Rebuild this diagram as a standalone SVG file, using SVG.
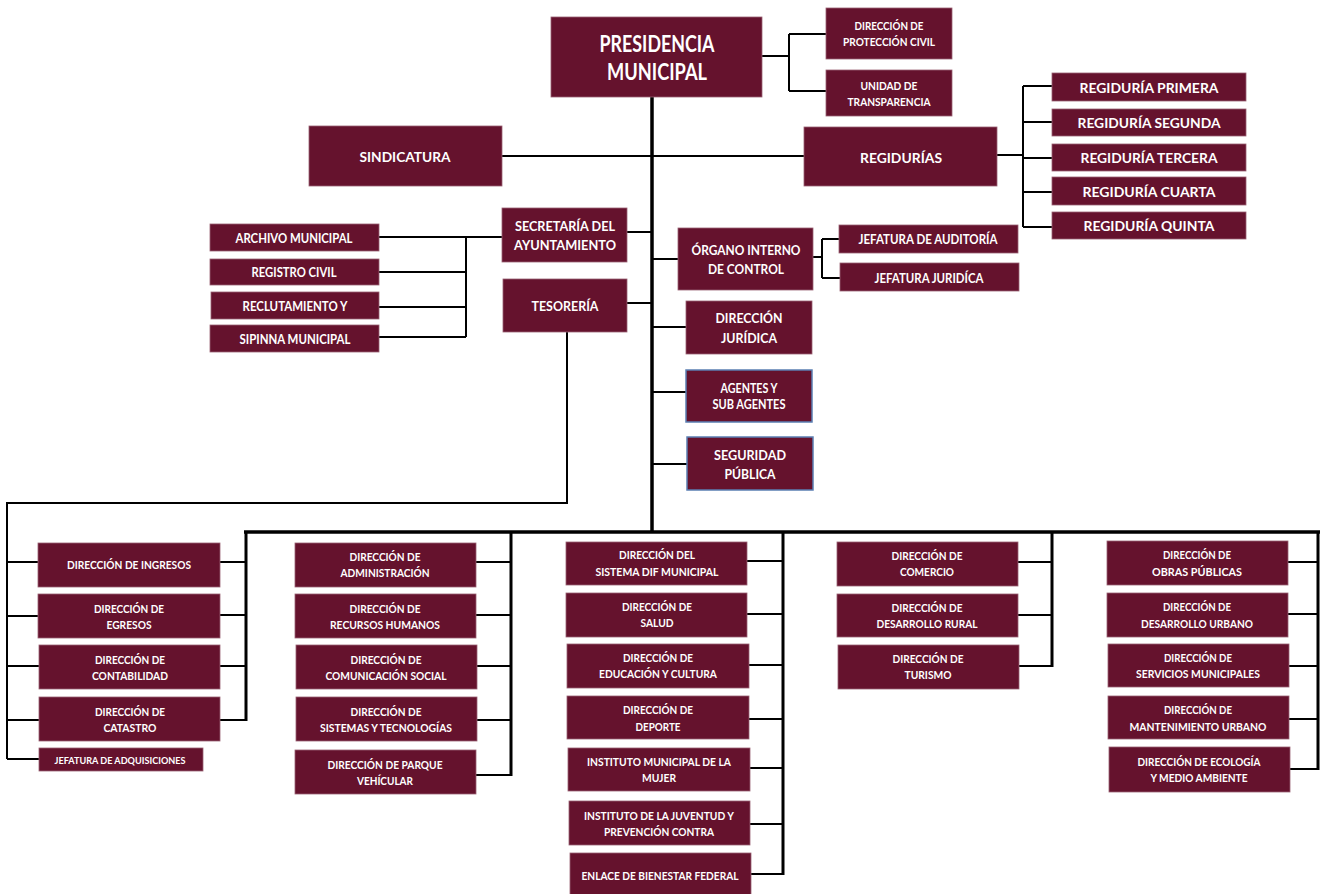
<svg xmlns="http://www.w3.org/2000/svg" width="1325" height="894" viewBox="0 0 1325 894">
<style>
.b{fill:#65122D;stroke:#9a6273;stroke-width:0.8}
.bb{fill:#65122D;stroke:#5b7fb3;stroke-width:1.5}
text{fill:#ffffff;font-family:Lato,"Open Sans","Liberation Sans",sans-serif;font-weight:700;text-anchor:middle}
.s{font-size:10.5px}
.m{font-size:12.5px}
.l{font-size:13.5px}
.c{fill:none;stroke:#000;stroke-width:2}
.k{fill:none;stroke:#000;stroke-width:3.5}
.kc{fill:none;stroke:#000;stroke-width:3}
</style>
<g id="connectors">
<path class="c" d="M762,56H789M789,34V91M789,34H826M789,91H826"/>
<path class="k" d="M652,97V533"/>
<path class="c" d="M502,156H804"/>
<path class="c" d="M997,155H1023M1023,86V227M1023,86H1052M1023,122H1052M1023,158H1052M1023,192H1052M1023,227H1052"/>
<path class="c" d="M627,232H652M627,303H652"/>
<path class="c" d="M379,237H502M466,237V337M379,272H466M379,307H466M379,337H466"/>
<path class="c" d="M652,259H678M813,257H822M822,239V278M822,239H839M822,278H840"/>
<path class="c" d="M652,327H686M652,392H686M652,464H687"/>
<path class="c" d="M567,332V503H7V759M7,562H38M7,616H38M7,666H39M7,720H39M7,759H39"/>
<path class="k" d="M244,532H1320"/>
<path class="kc" d="M246,532V721M511,532V776M783,532V875M1052,532V667M1318,532V770"/>
<path class="c" d="M220,562H246M220,615H246M220,666H246M220,720H246"/>
<path class="c" d="M476,562H511M476,615H511M477,666H511M477,720H511M476,775H511"/>
<path class="c" d="M747,561H783M747,614H783M749,665H783M749,719H783M750,768H783M750,824H783M751,874H783"/>
<path class="c" d="M1018,562H1052M1018,615H1052M1019,666H1052"/>
<path class="c" d="M1288,562H1318M1288,614H1318M1289,666H1318M1289,719H1318M1290,769H1318"/>
</g>
<g id="presidencia"><rect class="b" x="551" y="17" width="211" height="80"/><text x="657" y="52" style="font-size:22px" textLength="115" lengthAdjust="spacingAndGlyphs">PRESIDENCIA</text><text x="657" y="80" style="font-size:22px" textLength="100" lengthAdjust="spacingAndGlyphs">MUNICIPAL</text></g>
<g id="proteccion-civil"><rect class="b" x="826" y="8" width="126" height="51"/><text class="s" x="889" y="30" textLength="69" lengthAdjust="spacingAndGlyphs">DIRECCIÓN DE</text><text class="s" x="889" y="46" textLength="92" lengthAdjust="spacingAndGlyphs">PROTECCIÓN CIVIL</text></g>
<g id="transparencia"><rect class="b" x="826" y="70" width="126" height="46"/><text class="s" x="889" y="90" textLength="57" lengthAdjust="spacingAndGlyphs">UNIDAD DE</text><text class="s" x="889" y="106" textLength="83" lengthAdjust="spacingAndGlyphs">TRANSPARENCIA</text></g>
<g id="sindicatura"><rect class="b" x="309" y="126" width="193" height="60"/><text x="405" y="162" style="font-size:14px" textLength="91" lengthAdjust="spacingAndGlyphs">SINDICATURA</text></g>
<g id="regidurias"><rect class="b" x="804" y="127" width="193" height="59"/><text x="901" y="163" style="font-size:14px" textLength="82" lengthAdjust="spacingAndGlyphs">REGIDURÍAS</text></g>
<g id="reg1"><rect class="b" x="1052" y="73" width="194" height="28"/><text class="l" x="1149" y="93" textLength="139" lengthAdjust="spacingAndGlyphs">REGIDURÍA PRIMERA</text></g>
<g id="reg2"><rect class="b" x="1052" y="109" width="194" height="27"/><text class="l" x="1149" y="128" textLength="143" lengthAdjust="spacingAndGlyphs">REGIDURÍA SEGUNDA</text></g>
<g id="reg3"><rect class="b" x="1052" y="144" width="194" height="27"/><text class="l" x="1149" y="163" textLength="137" lengthAdjust="spacingAndGlyphs">REGIDURÍA TERCERA</text></g>
<g id="reg4"><rect class="b" x="1052" y="177" width="194" height="28"/><text class="l" x="1149" y="197" textLength="133" lengthAdjust="spacingAndGlyphs">REGIDURÍA CUARTA</text></g>
<g id="reg5"><rect class="b" x="1052" y="212" width="194" height="27"/><text class="l" x="1149" y="231" textLength="131" lengthAdjust="spacingAndGlyphs">REGIDURÍA QUINTA</text></g>
<g id="secretaria"><rect class="b" x="502" y="208" width="125" height="54"/><text class="m" x="565" y="231" textLength="100" lengthAdjust="spacingAndGlyphs">SECRETARÍA DEL</text><text class="m" x="565" y="250" textLength="102" lengthAdjust="spacingAndGlyphs">AYUNTAMIENTO</text></g>
<g id="tesoreria"><rect class="b" x="503" y="279" width="124" height="53"/><text class="m" x="565" y="311" textLength="67" lengthAdjust="spacingAndGlyphs">TESORERÍA</text></g>
<g id="archivo"><rect class="b" x="210" y="224" width="169" height="27"/><text class="m" x="294" y="243" textLength="117" lengthAdjust="spacingAndGlyphs">ARCHIVO MUNICIPAL</text></g>
<g id="registro"><rect class="b" x="210" y="259" width="169" height="26"/><text class="m" x="294" y="277" textLength="85" lengthAdjust="spacingAndGlyphs">REGISTRO CIVIL</text></g>
<g id="reclutamiento"><rect class="b" x="211" y="292" width="168" height="27"/><text class="m" x="295" y="311" textLength="105" lengthAdjust="spacingAndGlyphs">RECLUTAMIENTO Y</text></g>
<g id="sipinna"><rect class="b" x="210" y="325" width="169" height="27"/><text class="m" x="295" y="344" textLength="111" lengthAdjust="spacingAndGlyphs">SIPINNA MUNICIPAL</text></g>
<g id="organo"><rect class="b" x="678" y="228" width="135" height="62"/><text class="l" x="746" y="255" textLength="109" lengthAdjust="spacingAndGlyphs">ÓRGANO INTERNO</text><text class="l" x="746" y="274" textLength="76" lengthAdjust="spacingAndGlyphs">DE CONTROL</text></g>
<g id="jef-auditoria"><rect class="b" x="839" y="225" width="179" height="28"/><text class="m" x="928" y="244" textLength="139" lengthAdjust="spacingAndGlyphs">JEFATURA DE AUDITORÍA</text></g>
<g id="jef-juridica"><rect class="b" x="840" y="263" width="179" height="28"/><text class="m" x="929" y="283" textLength="109" lengthAdjust="spacingAndGlyphs">JEFATURA JURIDÍCA</text></g>
<g id="dir-juridica"><rect class="b" x="686" y="301" width="126" height="53"/><text class="l" x="749" y="323" textLength="67" lengthAdjust="spacingAndGlyphs">DIRECCIÓN</text><text class="l" x="749" y="343" textLength="56" lengthAdjust="spacingAndGlyphs">JURÍDICA</text></g>
<g id="agentes"><rect class="bb" x="686" y="370" width="126" height="52"/><text class="m" x="749" y="393" textLength="57" lengthAdjust="spacingAndGlyphs">AGENTES Y</text><text class="m" x="749" y="409" textLength="73" lengthAdjust="spacingAndGlyphs">SUB AGENTES</text></g>
<g id="seguridad"><rect class="bb" x="687" y="437" width="126" height="53"/><text class="l" x="750" y="460" textLength="72" lengthAdjust="spacingAndGlyphs">SEGURIDAD</text><text class="l" x="750" y="479" textLength="51" lengthAdjust="spacingAndGlyphs">PÚBLICA</text></g>
<g id="ingresos"><rect class="b" x="38" y="543" width="182" height="44"/><text class="s" x="129" y="569" textLength="124" lengthAdjust="spacingAndGlyphs">DIRECCIÓN DE INGRESOS</text></g>
<g id="egresos"><rect class="b" x="38" y="594" width="182" height="44"/><text class="s" x="129" y="613" textLength="70" lengthAdjust="spacingAndGlyphs">DIRECCIÓN DE</text><text class="s" x="129" y="629" textLength="45" lengthAdjust="spacingAndGlyphs">EGRESOS</text></g>
<g id="contabilidad"><rect class="b" x="39" y="645" width="181" height="44"/><text class="s" x="130" y="664" textLength="70" lengthAdjust="spacingAndGlyphs">DIRECCIÓN DE</text><text class="s" x="130" y="680" textLength="76" lengthAdjust="spacingAndGlyphs">CONTABILIDAD</text></g>
<g id="catastro"><rect class="b" x="39" y="697" width="181" height="44"/><text class="s" x="130" y="716" textLength="70" lengthAdjust="spacingAndGlyphs">DIRECCIÓN DE</text><text class="s" x="130" y="732" textLength="53" lengthAdjust="spacingAndGlyphs">CATASTRO</text></g>
<g id="adquisiciones"><rect class="b" x="39" y="748" width="164" height="23"/><text x="120" y="764" style="font-size:9px" textLength="131" lengthAdjust="spacingAndGlyphs">JEFATURA DE ADQUISICIONES</text></g>
<g id="administracion"><rect class="b" x="295" y="543" width="181" height="44"/><text class="s" x="385" y="561" textLength="71" lengthAdjust="spacingAndGlyphs">DIRECCIÓN DE</text><text class="s" x="385" y="577" textLength="89" lengthAdjust="spacingAndGlyphs">ADMINISTRACIÓN</text></g>
<g id="rrhh"><rect class="b" x="295" y="594" width="181" height="44"/><text class="s" x="385" y="613" textLength="71" lengthAdjust="spacingAndGlyphs">DIRECCIÓN DE</text><text class="s" x="385" y="629" textLength="110" lengthAdjust="spacingAndGlyphs">RECURSOS HUMANOS</text></g>
<g id="comunicacion"><rect class="b" x="296" y="645" width="181" height="44"/><text class="s" x="386" y="664" textLength="71" lengthAdjust="spacingAndGlyphs">DIRECCIÓN DE</text><text class="s" x="386" y="680" textLength="121" lengthAdjust="spacingAndGlyphs">COMUNICACIÓN SOCIAL</text></g>
<g id="sistemas"><rect class="b" x="296" y="697" width="181" height="44"/><text class="s" x="386" y="716" textLength="71" lengthAdjust="spacingAndGlyphs">DIRECCIÓN DE</text><text class="s" x="386" y="732" textLength="132" lengthAdjust="spacingAndGlyphs">SISTEMAS Y TECNOLOGÍAS</text></g>
<g id="parque"><rect class="b" x="295" y="750" width="181" height="44"/><text class="s" x="385" y="769" textLength="115" lengthAdjust="spacingAndGlyphs">DIRECCIÓN DE PARQUE</text><text class="s" x="385" y="785" textLength="56" lengthAdjust="spacingAndGlyphs">VEHÍCULAR</text></g>
<g id="dif"><rect class="b" x="566" y="542" width="181" height="43"/><text class="s" x="657" y="559" textLength="76" lengthAdjust="spacingAndGlyphs">DIRECCIÓN DEL</text><text class="s" x="657" y="576" textLength="123" lengthAdjust="spacingAndGlyphs">SISTEMA DIF MUNICIPAL</text></g>
<g id="salud"><rect class="b" x="566" y="593" width="181" height="44"/><text class="s" x="657" y="611" textLength="70" lengthAdjust="spacingAndGlyphs">DIRECCIÓN DE</text><text class="s" x="657" y="627" textLength="33" lengthAdjust="spacingAndGlyphs">SALUD</text></g>
<g id="educacion"><rect class="b" x="567" y="644" width="182" height="44"/><text class="s" x="658" y="662" textLength="70" lengthAdjust="spacingAndGlyphs">DIRECCIÓN DE</text><text class="s" x="658" y="678" textLength="118" lengthAdjust="spacingAndGlyphs">EDUCACIÓN Y CULTURA</text></g>
<g id="deporte"><rect class="b" x="567" y="696" width="182" height="43"/><text class="s" x="658" y="714" textLength="70" lengthAdjust="spacingAndGlyphs">DIRECCIÓN DE</text><text class="s" x="658" y="731" textLength="45" lengthAdjust="spacingAndGlyphs">DEPORTE</text></g>
<g id="mujer"><rect class="b" x="568" y="748" width="182" height="43"/><text class="s" x="659" y="766" textLength="144" lengthAdjust="spacingAndGlyphs">INSTITUTO MUNICIPAL DE LA</text><text class="s" x="659" y="782" textLength="34" lengthAdjust="spacingAndGlyphs">MUJER</text></g>
<g id="juventud"><rect class="b" x="569" y="801" width="181" height="44"/><text class="s" x="659" y="820" textLength="150" lengthAdjust="spacingAndGlyphs">INSTITUTO DE LA JUVENTUD Y</text><text class="s" x="659" y="836" textLength="110" lengthAdjust="spacingAndGlyphs">PREVENCIÓN CONTRA</text></g>
<g id="bienestar"><rect class="b" x="570" y="853" width="181" height="45"/><text class="s" x="660" y="880" textLength="157" lengthAdjust="spacingAndGlyphs">ENLACE DE BIENESTAR FEDERAL</text></g>
<g id="comercio"><rect class="b" x="837" y="542" width="181" height="44"/><text class="s" x="927" y="560" textLength="71" lengthAdjust="spacingAndGlyphs">DIRECCIÓN DE</text><text class="s" x="927" y="576" textLength="54" lengthAdjust="spacingAndGlyphs">COMERCIO</text></g>
<g id="rural"><rect class="b" x="837" y="594" width="181" height="43"/><text class="s" x="927" y="612" textLength="71" lengthAdjust="spacingAndGlyphs">DIRECCIÓN DE</text><text class="s" x="927" y="628" textLength="101" lengthAdjust="spacingAndGlyphs">DESARROLLO RURAL</text></g>
<g id="turismo"><rect class="b" x="838" y="645" width="181" height="44"/><text class="s" x="928" y="663" textLength="71" lengthAdjust="spacingAndGlyphs">DIRECCIÓN DE</text><text class="s" x="928" y="679" textLength="47" lengthAdjust="spacingAndGlyphs">TURISMO</text></g>
<g id="obras"><rect class="b" x="1107" y="541" width="181" height="44"/><text class="s" x="1197" y="559" textLength="68" lengthAdjust="spacingAndGlyphs">DIRECCIÓN DE</text><text class="s" x="1197" y="576" textLength="90" lengthAdjust="spacingAndGlyphs">OBRAS PÚBLICAS</text></g>
<g id="urbano"><rect class="b" x="1107" y="593" width="181" height="44"/><text class="s" x="1197" y="611" textLength="68" lengthAdjust="spacingAndGlyphs">DIRECCIÓN DE</text><text class="s" x="1197" y="628" textLength="112" lengthAdjust="spacingAndGlyphs">DESARROLLO URBANO</text></g>
<g id="servicios"><rect class="b" x="1108" y="644" width="181" height="43"/><text class="s" x="1198" y="662" textLength="68" lengthAdjust="spacingAndGlyphs">DIRECCIÓN DE</text><text class="s" x="1198" y="678" textLength="124" lengthAdjust="spacingAndGlyphs">SERVICIOS MUNICIPALES</text></g>
<g id="mantenimiento"><rect class="b" x="1108" y="696" width="181" height="43"/><text class="s" x="1198" y="714" textLength="68" lengthAdjust="spacingAndGlyphs">DIRECCIÓN DE</text><text class="s" x="1198" y="731" textLength="137" lengthAdjust="spacingAndGlyphs">MANTENIMIENTO URBANO</text></g>
<g id="ecologia"><rect class="b" x="1109" y="747" width="181" height="45"/><text class="s" x="1199" y="766" textLength="123" lengthAdjust="spacingAndGlyphs">DIRECCIÓN DE ECOLOGÍA</text><text class="s" x="1199" y="782" textLength="97" lengthAdjust="spacingAndGlyphs">Y MEDIO AMBIENTE</text></g>
</svg>
